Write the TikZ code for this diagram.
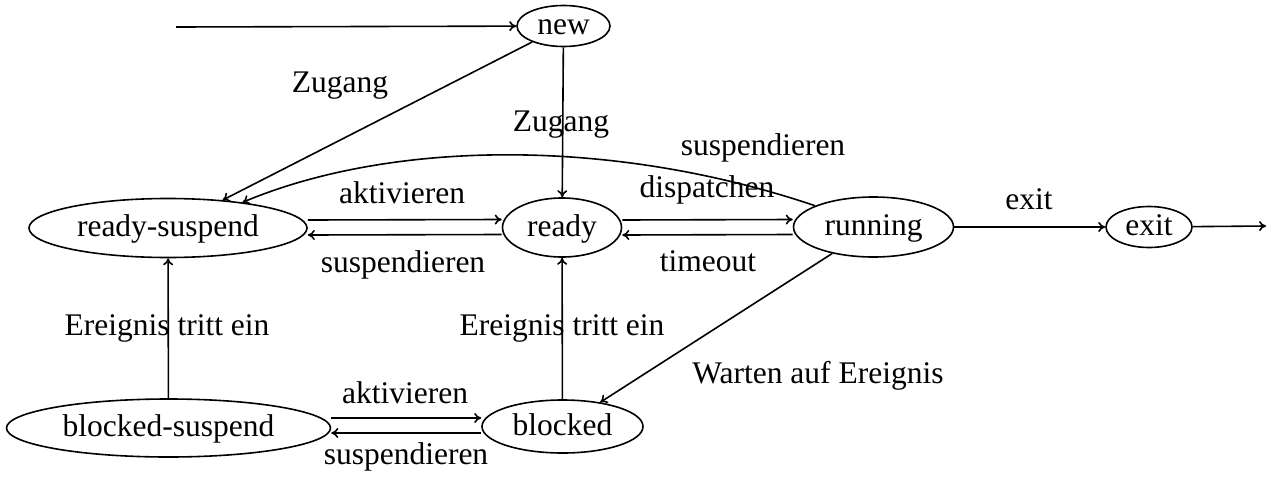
\documentclass[tikz,border=0pt]{standalone}
\usepackage{fontspec}
\setmainfont{Liberation Serif}
\usetikzlibrary{shapes.geometric,arrows.meta}
\begin{document}
\begin{tikzpicture}[x=1pt,y=-1pt,
  line width=1.6pt,
  every node/.style={font=\fontsize{31.5}{36}\selectfont},
  state/.style={draw,ellipse,inner sep=0pt,text height=23pt,text depth=6pt},
  lbl/.style={anchor=base},
  arr/.style={-{To[length=7pt,width=10pt]}}]
\useasboundingbox (0,0) rectangle (1268,479);

% states
\node[state,minimum width=93pt,minimum height=38pt]  (new) at (563.5,26) {new};
\node[state,minimum width=278pt,minimum height=59pt] (rs)  at (168,228)  {ready-suspend};
\node[state,minimum width=119pt,minimum height=59pt] (rd)  at (562,227.5) {ready};
\node[state,minimum width=160pt,minimum height=60pt] (run) at (873.5,227) {running};
\node[state,minimum width=86pt,minimum height=40pt]  (ex)  at (1149,227) {exit};
\node[state,minimum width=324pt,minimum height=58pt] (bs)  at (168.5,428) {blocked-suspend};
\node[state,minimum width=161pt,minimum height=53pt] (bl)  at (562.5,426.5) {blocked};

\coordinate (start) at (176,27);
\coordinate (done)  at (1266,226);

% transitions
\draw[arr] (start) -- (new);
\draw[arr] (new) -- (rs);
\draw[arr] (new) -- (rd);
\draw[arr] (run.160) .. controls (612,137) and (391,140) .. (rs.19);
\draw[arr] ([yshift=8pt]rs.east) -- ([yshift=8pt]rd.west);
\draw[arr] ([yshift=-7pt]rd.west) -- ([yshift=-7pt]rs.east);
\draw[arr] ([yshift=7.5pt]rd.east) -- ([yshift=7.5pt]run.west);
\draw[arr] ([yshift=-7.5pt]run.west) -- ([yshift=-7.5pt]rd.east);
\draw[arr] (run) -- (ex);
\draw[arr] (ex) -- (done);
\draw[arr] (bs) -- (rs);
\draw[arr] (bl) -- (rd);
\draw[arr] (run) -- (bl);
\draw[arr] ([yshift=10pt]bs.east) -- ([yshift=8.5pt]bl.west);
\draw[arr] ([yshift=-6.5pt]bl.west) -- ([yshift=-5pt]bs.east);

% transition labels
\node[lbl] (lzug1) at (340,92)  {Zugang};
\node[lbl] (lzug2) at (561,131) {Zugang};
\node[lbl] (lsus1) at (763,155) {suspendieren};
\node[lbl] (ldisp) at (707,197) {dispatchen};
\node[lbl] (lexit) at (1029,209) {exit};
\node[lbl] (lakt1) at (402,203) {aktivieren};
\node[lbl] (lsus2) at (403,272) {suspendieren};
\node[lbl] (ltime) at (708,271) {timeout};
\node[lbl] (lere1) at (167,335) {Ereignis tritt ein};
\node[lbl] (lere2) at (562,335) {Ereignis tritt ein};
\node[lbl] (lwart) at (818,383) {Warten auf Ereignis};
\node[lbl] (lakt2) at (405,403) {aktivieren};
\node[lbl] (lsus3) at (406,464) {suspendieren};
\end{tikzpicture}
\end{document}
